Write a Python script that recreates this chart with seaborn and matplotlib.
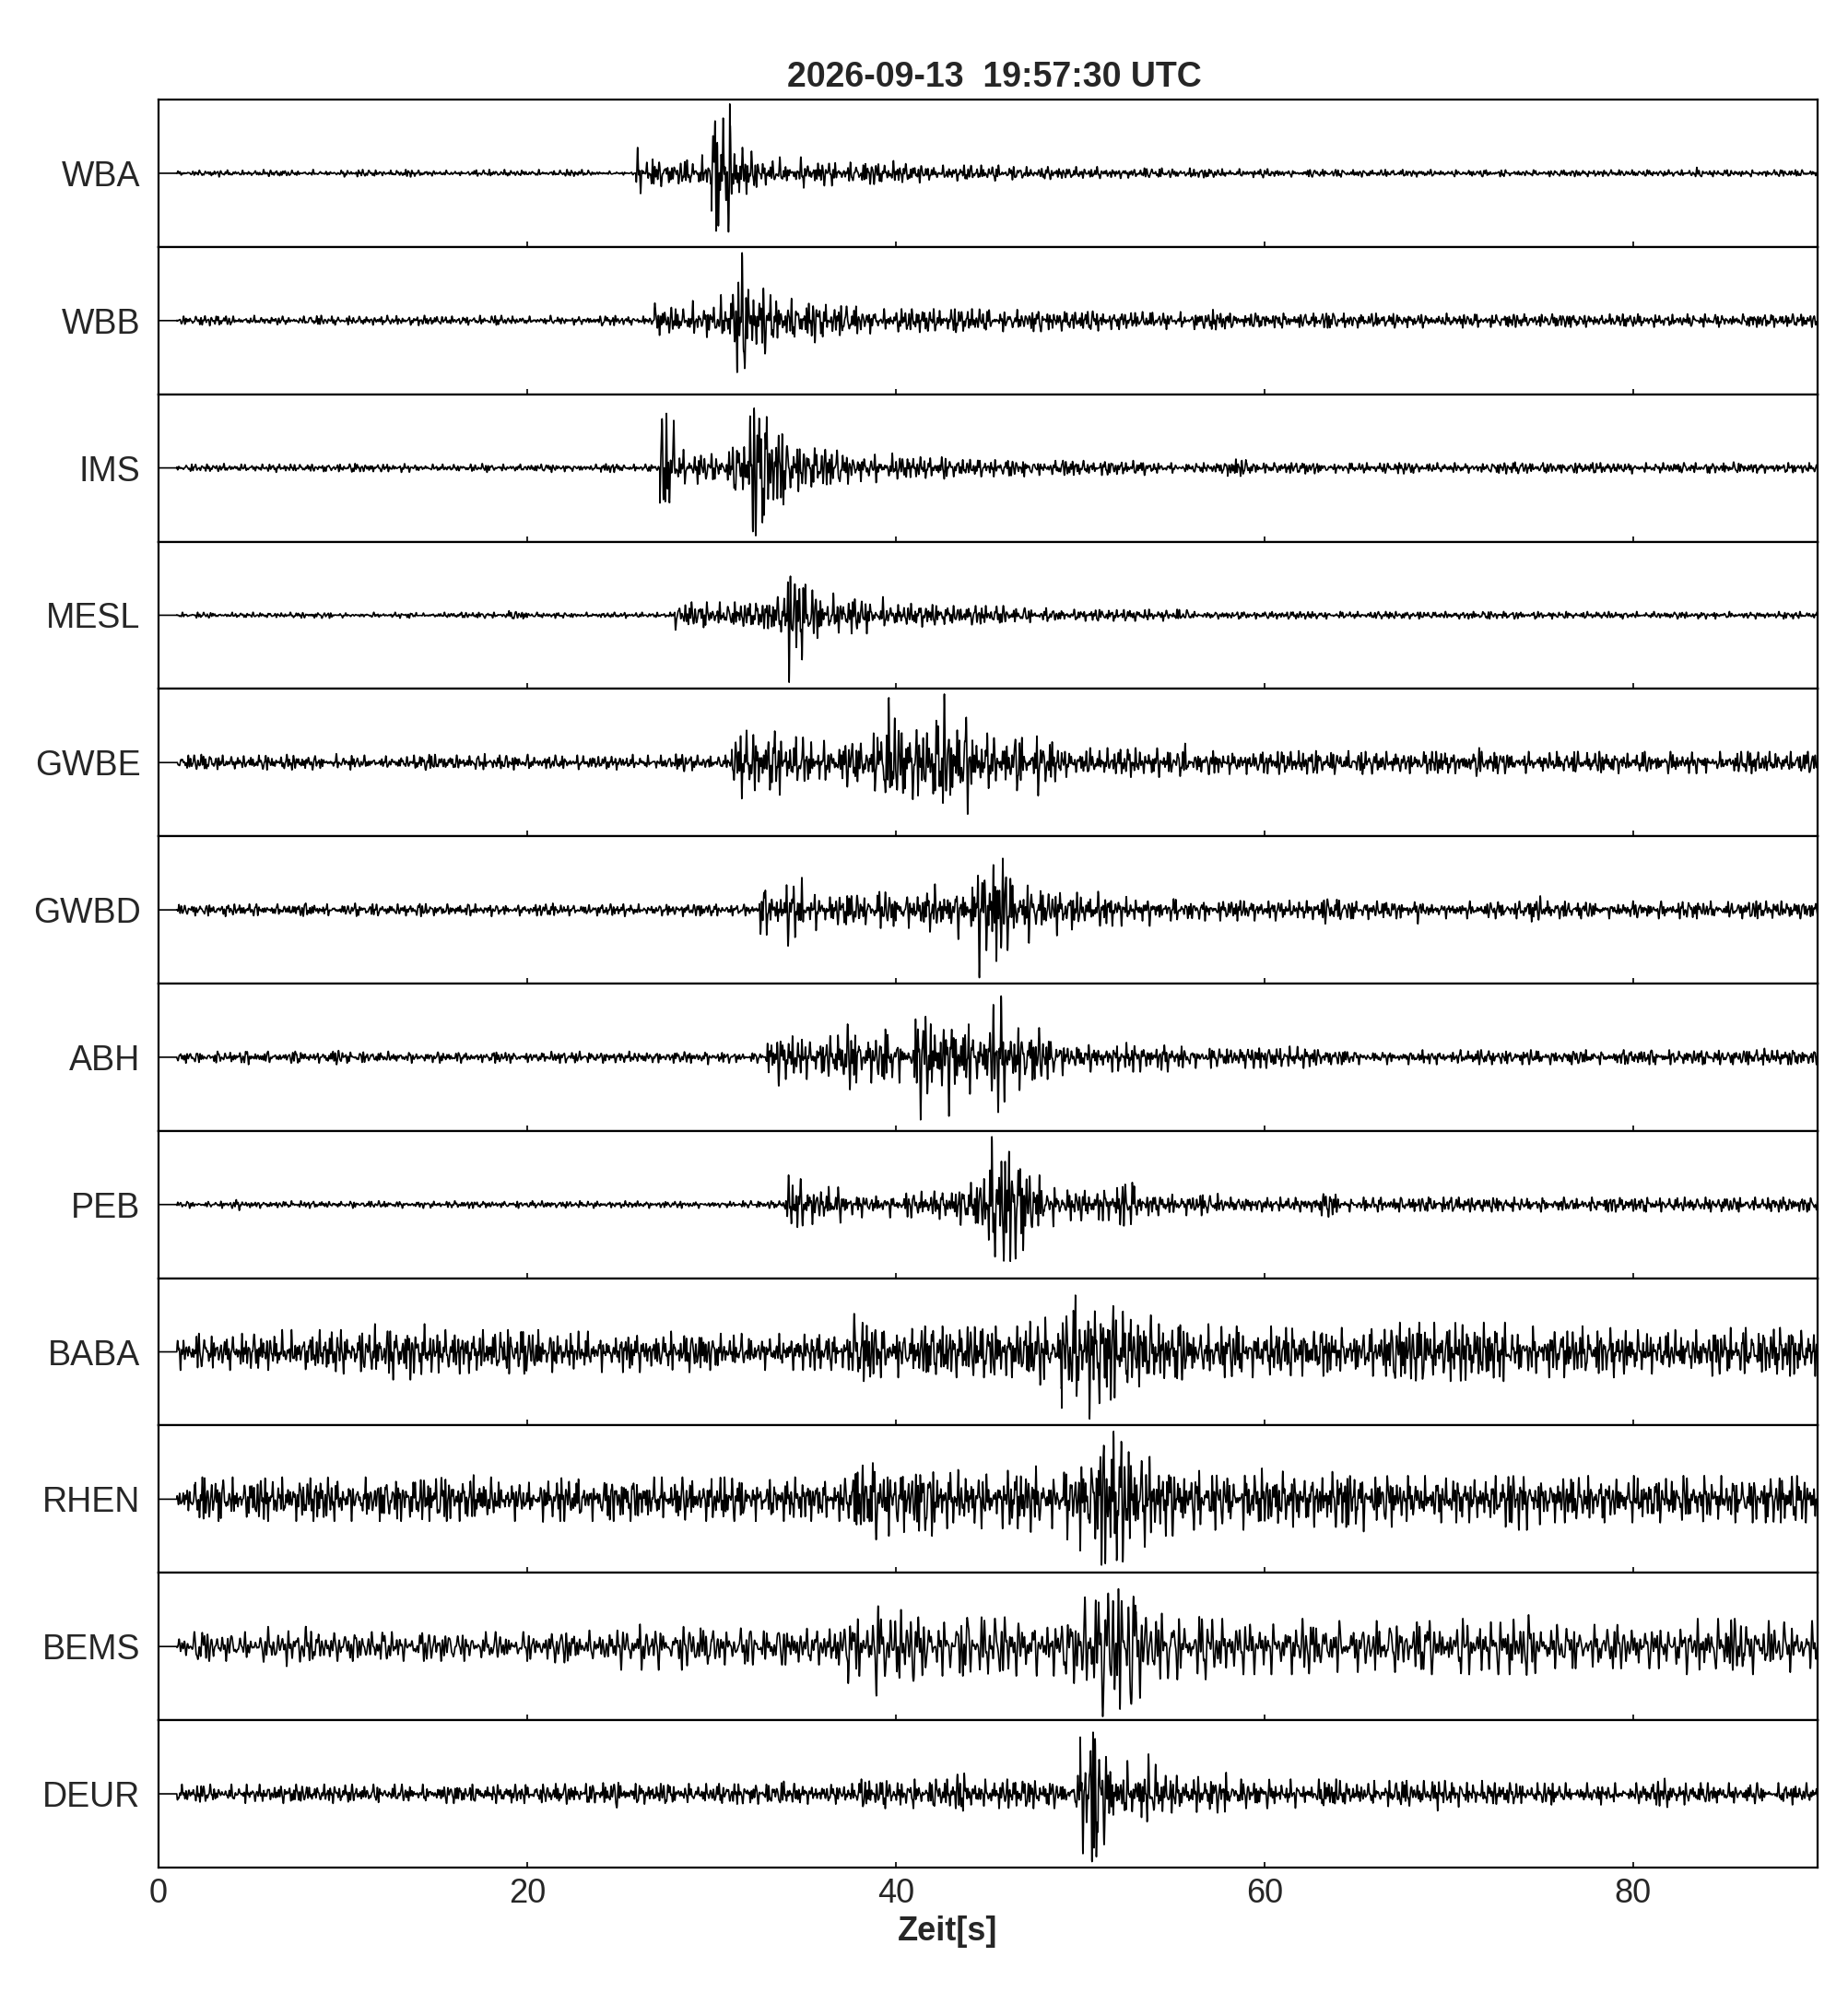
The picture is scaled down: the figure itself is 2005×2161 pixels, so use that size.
import numpy as np
import seaborn as sns
import matplotlib.pyplot as plt

title = "2026-09-13  19:57:30 UTC"
stations = ["WBA", "WBB", "IMS", "MESL", "GWBE", "GWBD",
            "ABH", "PEB", "BABA", "RHEN", "BEMS", "DEUR"]

# first arrival [s]
onsets = [25.9, 26.9, 27.2, 28.0, 31.1, 32.6, 33.0, 34.0, 37.7, 37.8, 37.4, 49.2]

# peak amplitude per second (0..89 s), fraction of half panel height
env_wba = [0.0,
           0.03, 0.04, 0.05, 0.04, 0.05, 0.04, 0.04, 0.05, 0.04, 0.05,
           0.05, 0.04, 0.05, 0.04, 0.04, 0.03, 0.05, 0.05, 0.04, 0.05,
           0.04, 0.05, 0.04, 0.03, 0.35, 0.30, 0.18, 0.18, 0.25,
           0.94, 0.65, 0.30, 0.22, 0.22, 0.20, 0.17, 0.15, 0.15, 0.17,
           0.13, 0.13, 0.11, 0.11, 0.11, 0.11, 0.09, 0.09, 0.09, 0.09,
           0.09, 0.07, 0.07, 0.07, 0.07, 0.07, 0.06, 0.06, 0.06, 0.06,
           0.06, 0.05, 0.05, 0.05, 0.05, 0.05, 0.05, 0.05, 0.05, 0.05,
           0.045, 0.045, 0.045, 0.045, 0.045, 0.045, 0.045, 0.045, 0.045, 0.045,
           0.045, 0.045, 0.045, 0.08, 0.045, 0.045, 0.045, 0.045, 0.045, 0.045]
env_wbb = [0.0,
           0.06, 0.07, 0.06, 0.06, 0.07, 0.06, 0.06, 0.07, 0.06, 0.06,
           0.06, 0.07, 0.06, 0.07, 0.06, 0.06, 0.07, 0.07, 0.06, 0.06,
           0.07, 0.06, 0.06, 0.07, 0.06, 0.35, 0.20, 0.27, 0.25,
           0.35, 0.92, 0.45, 0.35, 0.30, 0.30, 0.22, 0.20, 0.18, 0.16,
           0.16, 0.16, 0.16, 0.16, 0.16, 0.15, 0.15, 0.15, 0.14, 0.14,
           0.14, 0.12, 0.12, 0.12, 0.12, 0.12, 0.12, 0.15, 0.10, 0.10,
           0.10, 0.10, 0.10, 0.10, 0.10, 0.10, 0.10, 0.10, 0.10, 0.10,
           0.10, 0.09, 0.09, 0.09, 0.09, 0.09, 0.09, 0.09, 0.09, 0.09,
           0.09, 0.09, 0.09, 0.09, 0.09, 0.09, 0.09, 0.09, 0.09, 0.09]
env_ims = [0.0,
           0.05, 0.05, 0.06, 0.05, 0.05, 0.06, 0.05, 0.05, 0.05, 0.06,
           0.05, 0.05, 0.06, 0.05, 0.05, 0.05, 0.06, 0.05, 0.05, 0.05,
           0.06, 0.05, 0.05, 0.06, 0.05, 0.05, 0.74, 0.25, 0.22,
           0.22, 0.30, 0.92, 0.50, 0.32, 0.27, 0.25, 0.22, 0.20, 0.20,
           0.15, 0.15, 0.15, 0.12, 0.12, 0.12, 0.12, 0.10, 0.10, 0.10,
           0.10, 0.10, 0.10, 0.10, 0.07, 0.07, 0.07, 0.07, 0.12, 0.07,
           0.07, 0.07, 0.08, 0.07, 0.07, 0.07, 0.07, 0.08, 0.07, 0.07,
           0.07, 0.07, 0.07, 0.08, 0.07, 0.07, 0.07, 0.07, 0.07, 0.08,
           0.07, 0.07, 0.07, 0.07, 0.07, 0.08, 0.07, 0.07, 0.07, 0.07]
env_mesl = [0.0,
            0.04, 0.04, 0.03, 0.04, 0.04, 0.03, 0.04, 0.04, 0.04, 0.03,
            0.04, 0.04, 0.04, 0.03, 0.04, 0.04, 0.04, 0.04, 0.06, 0.04,
            0.04, 0.03, 0.04, 0.04, 0.04, 0.04, 0.04, 0.20, 0.18,
            0.18, 0.18, 0.18, 0.25, 0.91, 0.42, 0.30, 0.25, 0.25, 0.25,
            0.16, 0.16, 0.13, 0.13, 0.13, 0.13, 0.10, 0.10, 0.10, 0.08,
            0.08, 0.08, 0.08, 0.08, 0.08, 0.08, 0.05, 0.05, 0.05, 0.05,
            0.05, 0.05, 0.05, 0.05, 0.05, 0.05, 0.05, 0.05, 0.05, 0.05,
            0.05, 0.05, 0.05, 0.05, 0.05, 0.05, 0.05, 0.05, 0.05, 0.05,
            0.05, 0.05, 0.05, 0.05, 0.05, 0.05, 0.05, 0.05, 0.05, 0.05]
env_gwbe = [0.0,
            0.10, 0.11, 0.10, 0.09, 0.10, 0.11, 0.10, 0.10, 0.12, 0.10,
            0.10, 0.09, 0.10, 0.11, 0.10, 0.10, 0.12, 0.10, 0.10, 0.11,
            0.10, 0.10, 0.09, 0.10, 0.11, 0.10, 0.10, 0.12, 0.10, 0.10,
            0.49, 0.38, 0.44, 0.35, 0.28, 0.30, 0.33, 0.40, 0.88,
            0.50, 0.45, 0.93, 0.70, 0.40, 0.35, 0.38, 0.45, 0.28, 0.20,
            0.20, 0.20, 0.20, 0.20, 0.20, 0.26, 0.16, 0.16, 0.16, 0.16,
            0.16, 0.16, 0.16, 0.16, 0.16, 0.16, 0.15, 0.15, 0.15, 0.15,
            0.15, 0.20, 0.15, 0.15, 0.15, 0.15, 0.15, 0.15, 0.15, 0.15,
            0.15, 0.15, 0.15, 0.15, 0.15, 0.15, 0.15, 0.15, 0.15, 0.15]
env_gwbd = [0.0,
            0.08, 0.08, 0.09, 0.08, 0.08, 0.08, 0.09, 0.08, 0.08, 0.09,
            0.08, 0.08, 0.08, 0.09, 0.08, 0.08, 0.08, 0.09, 0.08, 0.08,
            0.09, 0.08, 0.08, 0.08, 0.09, 0.08, 0.08, 0.09, 0.08, 0.08,
            0.08, 0.34, 0.25, 0.49, 0.28, 0.20, 0.20, 0.20, 0.25,
            0.25, 0.30, 0.35, 0.40, 0.92, 0.70, 0.55, 0.45, 0.35, 0.27,
            0.25, 0.22, 0.22, 0.22, 0.15, 0.15, 0.15, 0.15, 0.15, 0.15,
            0.15, 0.13, 0.13, 0.19, 0.13, 0.13, 0.12, 0.12, 0.19, 0.12,
            0.12, 0.12, 0.12, 0.12, 0.19, 0.12, 0.12, 0.12, 0.12, 0.12,
            0.12, 0.12, 0.12, 0.12, 0.12, 0.12, 0.12, 0.12, 0.12, 0.12]
env_abh = [0.0,
           0.08, 0.07, 0.08, 0.10, 0.08, 0.07, 0.08, 0.08, 0.10, 0.08,
           0.07, 0.08, 0.08, 0.07, 0.08, 0.08, 0.07, 0.08, 0.08, 0.07,
           0.08, 0.08, 0.07, 0.08, 0.08, 0.07, 0.08, 0.08, 0.10, 0.08,
           0.07, 0.08, 0.39, 0.30, 0.30, 0.30, 0.45, 0.35, 0.38,
           0.35, 0.85, 0.80, 0.45, 0.50, 0.83, 0.45, 0.40, 0.30, 0.25,
           0.20, 0.20, 0.20, 0.20, 0.20, 0.15, 0.15, 0.15, 0.15, 0.15,
           0.15, 0.15, 0.15, 0.10, 0.10, 0.10, 0.10, 0.10, 0.10, 0.10,
           0.10, 0.10, 0.10, 0.10, 0.10, 0.10, 0.10, 0.10, 0.10, 0.10,
           0.10, 0.10, 0.10, 0.10, 0.10, 0.10, 0.10, 0.12, 0.10, 0.10]
env_peb = [0.0,
           0.05, 0.04, 0.05, 0.08, 0.05, 0.04, 0.05, 0.05, 0.04, 0.05,
           0.05, 0.04, 0.05, 0.05, 0.04, 0.05, 0.05, 0.04, 0.05, 0.05,
           0.04, 0.05, 0.05, 0.04, 0.05, 0.05, 0.04, 0.05, 0.05, 0.04,
           0.05, 0.05, 0.05, 0.40, 0.27, 0.25, 0.18, 0.18, 0.18,
           0.18, 0.18, 0.20, 0.28, 0.35, 0.92, 0.77, 0.40, 0.30, 0.22,
           0.22, 0.22, 0.30, 0.15, 0.15, 0.15, 0.15, 0.15, 0.10, 0.10,
           0.10, 0.10, 0.10, 0.17, 0.10, 0.10, 0.10, 0.10, 0.10, 0.10,
           0.10, 0.10, 0.10, 0.10, 0.10, 0.10, 0.10, 0.10, 0.10, 0.10,
           0.10, 0.10, 0.10, 0.10, 0.10, 0.10, 0.10, 0.10, 0.10, 0.10]
env_baba = [0.0,
            0.25, 0.25, 0.25, 0.25, 0.25, 0.30, 0.30, 0.30, 0.30, 0.30,
            0.38, 0.38, 0.38, 0.38, 0.30, 0.30, 0.30, 0.30, 0.30, 0.30,
            0.28, 0.28, 0.28, 0.28, 0.28, 0.28, 0.28, 0.28, 0.25, 0.25,
            0.25, 0.25, 0.25, 0.25, 0.25, 0.25, 0.54, 0.40, 0.35,
            0.35, 0.35, 0.35, 0.35, 0.35, 0.35, 0.35, 0.45, 0.50, 0.77,
            0.91, 0.70, 0.55, 0.50, 0.38, 0.38, 0.38, 0.35, 0.35, 0.35,
            0.35, 0.33, 0.33, 0.33, 0.33, 0.33, 0.33, 0.40, 0.40, 0.40,
            0.40, 0.40, 0.40, 0.40, 0.35, 0.35, 0.35, 0.35, 0.35, 0.30,
            0.30, 0.30, 0.30, 0.30, 0.33, 0.33, 0.33, 0.33, 0.33, 0.33]
env_rhen = [0.0,
            0.20, 0.30, 0.30, 0.30, 0.30, 0.30, 0.30, 0.30, 0.30, 0.30,
            0.30, 0.30, 0.30, 0.30, 0.30, 0.30, 0.33, 0.30, 0.30, 0.31,
            0.30, 0.30, 0.30, 0.30, 0.30, 0.30, 0.30, 0.30, 0.30, 0.30,
            0.30, 0.30, 0.30, 0.30, 0.30, 0.30, 0.83, 0.55, 0.50,
            0.45, 0.50, 0.40, 0.40, 0.40, 0.40, 0.40, 0.45, 0.40, 0.55,
            0.70, 0.92, 0.85, 0.65, 0.50, 0.50, 0.42, 0.42, 0.42, 0.42,
            0.38, 0.38, 0.38, 0.38, 0.38, 0.44, 0.38, 0.32, 0.32, 0.32,
            0.32, 0.32, 0.32, 0.42, 0.42, 0.32, 0.32, 0.32, 0.32, 0.32,
            0.32, 0.32, 0.32, 0.32, 0.32, 0.32, 0.32, 0.32, 0.32, 0.32]
env_bems = [0.0,
            0.20, 0.20, 0.20, 0.20, 0.27, 0.27, 0.27, 0.27, 0.20, 0.20,
            0.20, 0.20, 0.20, 0.20, 0.20, 0.20, 0.20, 0.20, 0.20, 0.20,
            0.22, 0.22, 0.22, 0.22, 0.32, 0.32, 0.32, 0.32, 0.25, 0.25,
            0.25, 0.25, 0.25, 0.25, 0.25, 0.25, 0.50, 0.67, 0.55,
            0.50, 0.40, 0.40, 0.40, 0.40, 0.40, 0.40, 0.40, 0.40, 0.50,
            0.67, 0.95, 0.85, 0.70, 0.45, 0.45, 0.45, 0.38, 0.38, 0.38,
            0.38, 0.38, 0.38, 0.35, 0.35, 0.35, 0.35, 0.35, 0.35, 0.38,
            0.38, 0.38, 0.38, 0.38, 0.43, 0.30, 0.30, 0.30, 0.30, 0.30,
            0.30, 0.30, 0.38, 0.38, 0.38, 0.38, 0.38, 0.35, 0.35, 0.35]
env_deur = [0.0,
            0.13, 0.13, 0.13, 0.13, 0.13, 0.13, 0.13, 0.13, 0.13, 0.13,
            0.13, 0.13, 0.13, 0.13, 0.13, 0.13, 0.13, 0.13, 0.13, 0.13,
            0.14, 0.14, 0.14, 0.19, 0.14, 0.14, 0.14, 0.14, 0.14, 0.14,
            0.14, 0.14, 0.17, 0.14, 0.14, 0.14, 0.14, 0.20, 0.20, 0.20,
            0.20, 0.20, 0.28, 0.20, 0.20, 0.20, 0.20, 0.20, 0.25, 0.92,
            0.69, 0.45, 0.54, 0.40, 0.25, 0.25, 0.29, 0.20, 0.20, 0.20,
            0.20, 0.20, 0.20, 0.18, 0.18, 0.18, 0.18, 0.18, 0.23, 0.18,
            0.18, 0.15, 0.15, 0.15, 0.15, 0.15, 0.15, 0.15, 0.15, 0.15,
            0.21, 0.15, 0.15, 0.15, 0.15, 0.15, 0.15, 0.15, 0.15, 0.15]

envelopes = [env_wba, env_wbb, env_ims, env_mesl, env_gwbe, env_gwbd,
             env_abh, env_peb, env_baba, env_rhen, env_bems, env_deur]

# how fast the wiggles look on each trace (BEMS is visibly lower frequency)
wiggle_speed = [1.0, 1.0, 1.0, 1.0, 1.0, 1.0, 1.0, 1.0, 1.0, 1.0, 0.75, 1.0]

sns.set_theme(style="white")
plt.rcParams["font.family"] = ["Liberation Sans", "DejaVu Sans"]

fig, axes = plt.subplots(len(stations), 1, figsize=(20.05, 21.61), dpi=100, sharex=True)
fig.subplots_adjust(left=0.0858, right=0.9835, top=0.950, bottom=0.0625, hspace=0)

fs = 100
t = np.arange(0, 90, 1 / fs)
sec = np.floor(t).astype(int)
freqs_base = np.array([1.93, 2.61, 3.37, 4.42, 5.21, 5.97, 7.34, 8.58, 9.71])

for i, ax in enumerate(axes):
    env = np.asarray(envelopes[i], dtype=float)
    amp = env[sec]
    k = int(np.floor(onsets[i]))
    before = (t >= k) & (t < onsets[i])
    amp[before] = env[k - 1]

    # wiggle texture scaled so each second peaks at its read amplitude
    freqs = freqs_base * wiggle_speed[i]
    phases = (np.arange(len(freqs)) + 1) ** 1.5 * (i + 1) * 0.91
    wig = sum(np.sin(2 * np.pi * f * t + p) for f, p in zip(freqs, phases))
    wig = wig.reshape(90, fs)
    wig = wig / np.abs(wig).max(axis=1, keepdims=True)
    wig = (np.sign(wig) * np.abs(wig) ** 1.15).ravel()

    sns.lineplot(x=t, y=amp * wig, ax=ax, color="black", linewidth=1.2,
                 estimator=None, sort=False)

    ax.set_xlim(0, 90)
    ax.set_ylim(-1, 1)
    ax.set_yticks([0])
    ax.set_yticklabels([stations[i]])
    ax.set_xticks([0, 20, 40, 60, 80])
    ax.tick_params(axis="y", length=0, pad=14, labelsize=27)
    ax.tick_params(axis="x", direction="in", length=4, width=1.2,
                   color="black", labelsize=26, pad=8, bottom=True, top=False)
    ax.grid(False)
    ax.set_ylabel("")
    for s in ax.spines.values():
        s.set_color("black")
        s.set_linewidth(1.6)

axes[0].set_title(title, fontsize=27, fontweight="bold", pad=10, x=0.504)
axes[-1].set_xlabel("Zeit[s]", fontsize=26, fontweight="bold", labelpad=4, x=0.4756)

fig.savefig("out.png", dpi=100)
